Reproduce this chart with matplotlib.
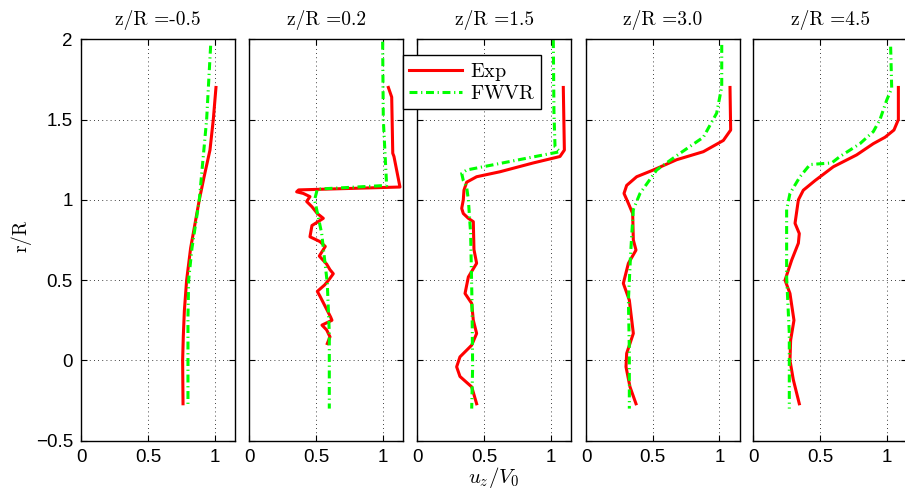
import numpy as np
import matplotlib.pyplot as plt

plt.rcParams['mathtext.fontset'] = 'cm'
plt.rcParams['font.family'] = ['Liberation Sans', 'DejaVu Sans']

# axial stations
z_labels = ['-0.5', '0.2', '1.5', '3.0', '4.5']

# z/R = -0.5
exp1_u = [1.01, 0.99, 0.965, 0.92, 0.885, 0.82, 0.79, 0.773, 0.765, 0.76, 0.763]
exp1_r = [1.70, 1.50, 1.31, 1.14, 1.00, 0.70, 0.50, 0.31, 0.15, 0.00, -0.27]
sim1_u = [0.97, 0.94, 0.885, 0.83, 0.805, 0.80, 0.80]
sim1_r = [1.96, 1.50, 1.00, 0.70, 0.50, 0.27, -0.29]

# z/R = 0.2
exp2_u = [1.043, 1.068, 1.076, 1.085, 1.13, 0.37, 0.355, 0.405, 0.455, 0.43, 0.47,
          0.51, 0.555, 0.47, 0.455, 0.53, 0.57, 0.525, 0.58, 0.605, 0.63, 0.595,
          0.565, 0.51, 0.53, 0.57, 0.61, 0.62, 0.545, 0.58, 0.605, 0.585]
exp2_r = [1.70, 1.64, 1.29, 1.27, 1.08, 1.062, 1.05, 1.04, 1.02, 0.99, 0.957,
          0.915, 0.885, 0.84, 0.77, 0.74, 0.71, 0.65, 0.60, 0.565, 0.54, 0.50,
          0.47, 0.43, 0.40, 0.335, 0.27, 0.25, 0.22, 0.19, 0.147, 0.105]
sim2_u = [1.00, 1.005, 1.03, 0.51, 0.49, 0.543, 0.585, 0.60, 0.60]
sim2_r = [1.985, 1.50, 1.09, 1.067, 1.00, 0.79, 0.48, 0.17, -0.30]

# z/R = 1.5
exp3_u = [1.095, 1.103, 1.07, 0.87, 0.62, 0.445, 0.37, 0.35, 0.345, 0.333, 0.345,
          0.383, 0.42, 0.425, 0.445, 0.383, 0.358, 0.408, 0.42, 0.445, 0.408,
          0.32, 0.295, 0.32, 0.408, 0.445]
exp3_r = [1.70, 1.31, 1.27, 1.23, 1.175, 1.144, 1.11, 1.06, 1.00, 0.947, 0.915,
          0.885, 0.864, 0.69, 0.605, 0.52, 0.417, 0.355, 0.25, 0.168, 0.095,
          0.022, -0.04, -0.10, -0.165, -0.27]
sim3_u = [1.02, 1.025, 1.033, 1.07, 0.37, 0.333, 0.345, 0.37, 0.383, 0.40, 0.41,
          0.415, 0.408]
sim3_r = [1.995, 1.54, 1.33, 1.30, 1.186, 1.165, 1.12, 1.08, 1.00, 0.79, 0.375,
          -0.04, -0.30]

# z/R = 3.0
exp4_u = [1.08, 1.085, 1.03, 0.88, 0.68, 0.505, 0.38, 0.305, 0.285, 0.318, 0.35,
          0.355, 0.375, 0.318, 0.28, 0.325, 0.355, 0.305, 0.30, 0.33, 0.375]
exp4_r = [1.70, 1.435, 1.37, 1.30, 1.25, 1.186, 1.144, 1.09, 1.04, 0.978, 0.915,
          0.75, 0.687, 0.605, 0.48, 0.375, 0.168, 0.044, -0.04, -0.165, -0.27]
sim4_u = [1.018, 1.018, 0.98, 0.88, 0.705, 0.53, 0.405, 0.355, 0.335, 0.318,
          0.325, 0.325]
sim4_r = [1.965, 1.705, 1.54, 1.39, 1.29, 1.186, 1.04, 0.94, 0.67, 0.375,
          0.064, -0.30]

# z/R = 4.5
exp5_u = [1.088, 1.088, 1.055, 0.988, 0.90, 0.775, 0.60, 0.463, 0.375, 0.338,
          0.313, 0.345, 0.338, 0.288, 0.238, 0.275, 0.305, 0.28, 0.275, 0.30, 0.345]
exp5_r = [1.70, 1.50, 1.435, 1.39, 1.35, 1.28, 1.206, 1.12, 1.06, 1.00,
          0.854, 0.79, 0.73, 0.625, 0.50, 0.417, 0.25, 0.126, 0.00, -0.12, -0.27]
sim5_u = [1.03, 1.038, 1.00, 0.975, 0.95, 0.90, 0.80, 0.65, 0.588, 0.425, 0.35,
          0.275, 0.25, 0.25, 0.27, 0.27]
sim5_r = [1.954, 1.695, 1.62, 1.56, 1.50, 1.425, 1.35, 1.27, 1.23, 1.22, 1.144,
          1.04, 0.94, 0.52, 0.168, -0.30]

exp_u = [exp1_u, exp2_u, exp3_u, exp4_u, exp5_u]
exp_r = [exp1_r, exp2_r, exp3_r, exp4_r, exp5_r]
sim_u = [sim1_u, sim2_u, sim3_u, sim4_u, sim5_u]
sim_r = [sim1_r, sim2_r, sim3_r, sim4_r, sim5_r]

W, H = 905, 495
fig = plt.figure(figsize=(W / 100, H / 100), dpi=100)

lefts = [81.3, 249.3, 417.3, 586.0, 753.3]
ax_w, ax_top, ax_bot = 154.0, 39.3, 440.7

axes = []
for i, left in enumerate(lefts):
    ax = fig.add_axes([left / W, 1 - ax_bot / H, ax_w / W, (ax_bot - ax_top) / H])
    ax.plot(exp_u[i], exp_r[i], color='red', lw=2.2, solid_joinstyle='round',
            label=r'$\mathrm{Exp}$')
    ax.plot(sim_u[i], sim_r[i], color='#00ff00', lw=2.2, linestyle='-.',
            dashes=(2.6, 1.2, 0.4, 1.2), label=r'$\mathrm{FWVR}$')
    ax.set_xlim(0, 1.155)
    ax.set_ylim(-0.5, 2)
    ax.set_xticks([0, 0.5, 1])
    ax.set_xticklabels(['0', '0.5', '1'])
    ax.set_yticks([-0.5, 0, 0.5, 1, 1.5, 2])
    ax.grid(True, color='black', linestyle=(0, (1, 4)), lw=0.6)
    ax.tick_params(direction='in', top=True, right=True, length=4, width=0.8,
                   labelsize=13.5, pad=6)
    if i == 0:
        ax.set_yticklabels(['\u22120.5', '0', '0.5', '1', '1.5', '2'])
    else:
        ax.set_yticklabels([])
    for s in ax.spines.values():
        s.set_linewidth(1.0)
    # titles in Computer Modern, plain hyphen like the original
    ax.set_title('z/R =' + z_labels[i], fontfamily='cmr10', fontsize=14, pad=10)
    axes.append(ax)

leg = axes[2].legend(loc='upper left', bbox_to_anchor=(403.3 / W, 1 - 55 / H),
                     bbox_transform=fig.transFigure, borderaxespad=0,
                     fancybox=False, edgecolor='black', framealpha=1,
                     fontsize=14.5, handlelength=2.6, labelspacing=0.05,
                     borderpad=0.3, handletextpad=0.4)
leg.get_frame().set_linewidth(1.0)

fig.text(21 / W, 1 - 236 / H, r'$\mathrm{r/R}$', rotation=90, fontsize=14,
         ha='center', va='center')
fig.text(494 / W, 1 - 478 / H, r'$u_z/V_0$', fontsize=15, ha='center', va='center')

fig.savefig('out.png', dpi=100, facecolor='white')
